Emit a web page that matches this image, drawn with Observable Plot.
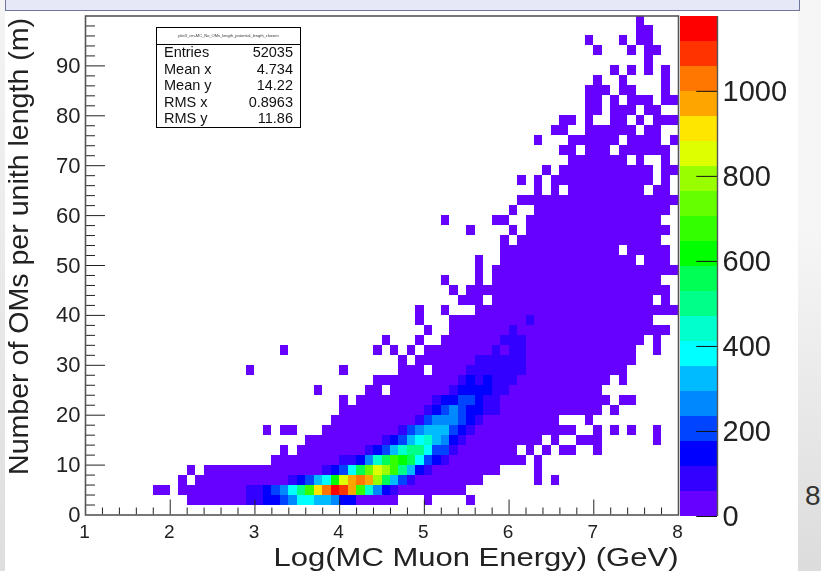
<!DOCTYPE html>
<html><head><meta charset="utf-8">
<script src="https://cdn.jsdelivr.net/npm/d3@7"></script>
<script src="https://cdn.jsdelivr.net/npm/@observablehq/plot@0.6"></script>
<style>
html,body{margin:0;padding:0;background:#fff}
#page{position:relative;width:821px;height:571px;overflow:hidden;background:#fff;font-family:"Liberation Sans",Arial,sans-serif}
#soft{position:absolute;left:0;top:0;width:821px;height:571px;filter:blur(0.35px)}
#chart,#bar{position:absolute;left:0;top:0}
#chart svg,#bar svg{background:transparent;display:block}
#leftstrip{position:absolute;left:0;top:0;width:5px;height:571px;background:linear-gradient(#f4f4f4,#dedede)}
#rightstrip{position:absolute;left:798px;top:0;width:23px;height:571px;background:linear-gradient(#f6f6f6 40%,#dcdcdc)}
#band{position:absolute;left:5px;top:-2px;width:793px;height:11px;background:#e6e8f8;border:1px solid #70759c}
#eight{position:absolute;left:805px;top:480px;font-size:28px;line-height:32px;color:#333}
#stats{position:absolute;left:156px;top:27px;width:143px;height:99px;border:1px solid #000;background:#fff;color:#111;font-size:14.5px}
#stats .t{position:absolute;left:0;right:0;top:0;height:16px;border-bottom:1px solid #000;font-size:4px;line-height:15px;text-align:center;color:#333}
#stats .k{position:absolute;left:7px;line-height:17px}
#stats .v{position:absolute;right:7px;line-height:17px}
</style></head><body>
<div id="page">
<div id="leftstrip"></div><div id="rightstrip"></div><div id="band"></div>
<div id="eight">8</div>
<div id="soft">
<div id="chart"></div><div id="bar"></div>
<div id="stats"></div>
</div>
</div>
<script>
// Axis text and statistics box
const xAxisTitle = "Log(MC Muon Energy) (GeV)";
const yAxisTitle = "Number of OMs per unith length (m)";
const statsTitle = "plot3_cm-MC_No_OMs_length_potential_length_chosen";
const statsKeys = ["Entries","Mean x","Mean y","RMS x","RMS y"];
const statsVals = ["52035","4.734","14.22","0.8963","11.86"];

// Histogram binning
const xMin = 1, xMax = 8, xBinWidth = 0.1;
const yMin = 0, yMax = 100, yBinHeight = 2;
const zMax = 1176, zLevels = 20;

const xTicks = [1,2,3,4,5,6,7,8];
const yTicks = [0,10,20,30,40,50,60,70,80,90];
const zTicks = [0,200,400,600,800,1000];

const palette = ["#6600ff","#3300ff","#0000ff","#0044ff","#0088ff","#00bbff","#00ffff","#00ffcc","#00ff88","#00ff55",
                 "#00ff00","#33ff00","#66ff00","#99ff00","#ddff00","#ffe600","#ffa500","#ff7700","#ff3300","#ff0000"];

// Low-count occupied bins: index = y bin, each run = [first x bin, last x bin]
const lowCount = 30;
const occupiedRuns = [
 [],
 [[12,36],[40,40],[45,45]],
 [[8,9],[11,44]],
 [[11,11],[13,46],[53,53],[55,55]],
 [[12,12],[14,48],[53,53]],
 [[22,51],[53,53]],
 [[23,23],[25,50],[52,52],[54,54],[56,57],[60,60]],
 [[26,53],[55,55],[58,60],[67,67]],
 [[21,21],[23,24],[28,57],[60,60],[62,62],[64,64],[67,67]],
 [[29,55],[59,59]],
 [[30,60],[62,62]],
 [[30,30],[32,61],[63,64]],
 [[27,27],[33,34],[36,60]],
 [[34,61],[63,63]],
 [[19,19],[30,30],[37,39],[41,63]],
 [[37,37],[39,64]],
 [[23,23],[34,34],[36,36],[38,38],[40,64],[67,67]],
 [[35,35],[39,39],[42,65],[67,67]],
 [[40,40],[43,68]],
 [[39,39],[43,66]],
 [[39,39],[42,42],[46,69]],
 [[44,46],[48,66],[68,68]],
 [[43,43],[45,68]],
 [[42,42],[46,46],[48,67]],
 [[46,46],[48,69]],
 [[46,46],[49,64],[66,68]],
 [[49,62],[64,68]],
 [[49,49],[51,67]],
 [[45,45],[50,50],[52,68]],
 [[42,42],[48,49],[52,67]],
 [[50,50],[53,68]],
 [[51,69]],
 [[53,53],[55,55],[57,65],[67,68]],
 [[51,51],[53,53],[55,66],[68,68]],
 [[54,54],[56,66],[68,69]],
 [[57,63],[65,65],[68,68]],
 [[56,57],[59,61],[63,68]],
 [[53,53],[57,62],[64,67],[69,69]],
 [[55,56],[59,64],[66,67]],
 [[56,57],[59,59],[62,63],[65,65],[67,69]],
 [[59,60],[62,64],[66,67]],
 [[59,60],[62,62],[64,66],[68,69]],
 [[59,61],[63,64],[68,68]],
 [[60,60],[63,63],[68,68]],
 [[62,62],[64,64],[66,66],[68,68]],
 [[66,66]],
 [[60,60],[64,64],[66,67]],
 [[59,59],[63,63],[65,66]],
 [[65,66]],
 [[65,65]]
];

// Higher-count bins: [y bin, first x bin, counts...]
const hotRows = [
 [1,19,[88,88,147,147,206,265,382,382,323,323,265,147,147]],
 [2,19,[88,88,147,206,265,382,500,676,911,1029,1147,1088,970,676,441,265,147,88]],
 [3,24,[88,147,206,323,382,617,853,970,1029,970,794,559,323,206,88]],
 [4,28,[88,147,206,382,559,735,853,794,676,500,323,147,88]],
 [5,30,[88,88,147,265,441,559,676,617,559,382,206,147,88]],
 [6,33,[88,147,206,323,441,500,500,382,206,206,88]],
 [7,35,[88,147,206,323,382,441,323,265,147,88]],
 [8,37,[88,206,265,323,323,323,206,147,88]],
 [9,39,[88,206,265,265,265,206,147,88]],
 [10,40,[88,147,206,265,206,147,147,88,88]],
 [11,41,[88,147,147,206,206,147,88,88]],
 [12,43,[88,147,147,147,147,88,88]],
 [13,44,[88,147,88,147,88,88,88]],
 [14,45,[88,88,88,88,88,88,88]],
 [15,46,[88,88,88,88,88,88]],
 [16,48,[88,30,88,88]],
 [17,49,[88,88,88]],
 [18,50,[88]],
 [19,52,[88]]
];

// Build the table of bins
const binMap = new Map();
occupiedRuns.forEach((runs, r) => runs.forEach(([a,b]) => {
  for (let i = a; i <= b; i++) binMap.set(r*100+i, {i, r, count: lowCount});
}));
hotRows.forEach(([r, first, counts]) => counts.forEach((c, k) => {
  binMap.set(r*100+first+k, {i:first+k, r, count:c});
}));
const bins = [...binMap.values()];

const thresholds = d3.range(1, zLevels).map(k => k*zMax/zLevels);
const colorScale = {type:"threshold", domain:thresholds, range:palette};

const xMinor = d3.range(xMin, xMax+1e-9, 0.2).filter(v => !xTicks.some(t => Math.abs(t-v)<1e-6));
const yMinor = d3.range(yMin, yMax-1e-9, 2).filter(v => !yTicks.includes(v));

const tickStroke = "#222";
const chart = Plot.plot({
  width:821, height:571,
  marginLeft:85, marginRight:143, marginTop:15.5, marginBottom:56.5,
  style:{fontFamily:'"Liberation Sans",Arial,sans-serif', background:"transparent", overflow:"visible"},
  x:{domain:[xMin,xMax]},
  y:{domain:[yMin,yMax]},
  color:colorScale,
  marks:[
    Plot.rect(bins,{
      x1:d=>xMin+d.i*xBinWidth, x2:d=>xMin+(d.i+1)*xBinWidth,
      y1:d=>yMin+d.r*yBinHeight, y2:d=>yMin+(d.r+1)*yBinHeight,
      fill:"count", shapeRendering:"crispEdges"
    }),
    Plot.ruleX(xMinor,{y1:0,y2:1.4,stroke:tickStroke,strokeWidth:1}),
    Plot.ruleX(xTicks.slice(1,-1),{y1:0,y2:3,stroke:tickStroke,strokeWidth:1}),
    Plot.ruleY(yMinor,{x1:xMin,x2:xMin+0.118,stroke:tickStroke,strokeWidth:1}),
    Plot.ruleY(yTicks.slice(1),{x1:xMin,x2:xMin+0.236,stroke:tickStroke,strokeWidth:1}),
    Plot.frame({stroke:"#555",strokeWidth:1.6}),
    Plot.axisX(xTicks,{tickSize:0,tickPadding:9,fontSize:19,label:null,color:"#222",tickFormat:d=>String(d),dx:-1}),
    Plot.axisY(yTicks,{tickSize:0,tickPadding:5,fontSize:22,label:null,color:"#222",tickFormat:d=>String(d)}),
    Plot.text([xAxisTitle],{frameAnchor:"bottom-right",dy:51,fontSize:25,textAnchor:"end",lineAnchor:"bottom",fill:"#222",className:"xtitle"}),
    Plot.text([yAxisTitle],{frameAnchor:"top-left",dx:-66,dy:2,rotate:-90,fontSize:28,textAnchor:"end",lineAnchor:"middle",fill:"#222",className:"ytitle"})
  ]
});
document.getElementById("chart").append(chart);
// The reference's titles are stretched by its aspect ratio: fit them to its lengths
d3.select(chart).selectAll(".xtitle text").attr("textLength",405).attr("lengthAdjust","spacingAndGlyphs");
d3.select(chart).selectAll(".ytitle text").attr("textLength",457).attr("lengthAdjust","spacingAndGlyphs");

// Colour bar
const barLevels = d3.range(zLevels).map(k => ({lo:k*zMax/zLevels, hi:(k+1)*zMax/zLevels}));
const bar = Plot.plot({
  width:821, height:571,
  marginLeft:680, marginRight:104, marginTop:16, marginBottom:55,
  style:{fontFamily:'"Liberation Sans",Arial,sans-serif', background:"transparent", overflow:"visible"},
  x:{domain:[0,1],axis:null},
  y:{domain:[0,zMax],axis:null},
  color:colorScale,
  marks:[
    Plot.rect(barLevels,{x1:0,x2:1,y1:"lo",y2:"hi",fill:d=>(d.lo+d.hi)/2,shapeRendering:"crispEdges"}),
    Plot.ruleY(zTicks,{x1:0.44,x2:1,stroke:"#111",strokeWidth:1}),
    Plot.ruleX([1],{stroke:"#555",strokeWidth:1.4}),
    Plot.axisY(zTicks,{anchor:"right",tickSize:0,tickPadding:5,fontSize:29,label:null,color:"#222",tickFormat:d=>String(d)})
  ]
});
document.getElementById("bar").append(bar);

// Statistics box
const stats = document.getElementById("stats");
const statTops = [16,33,49,66,82];
stats.innerHTML = `<div class="t">${statsTitle}</div>` + statsKeys.map((k,j) =>
  `<div class="k" style="top:${statTops[j]}px">${k}</div><div class="v" style="top:${statTops[j]}px">${statsVals[j]}</div>`).join("");
</script>
</body></html>
